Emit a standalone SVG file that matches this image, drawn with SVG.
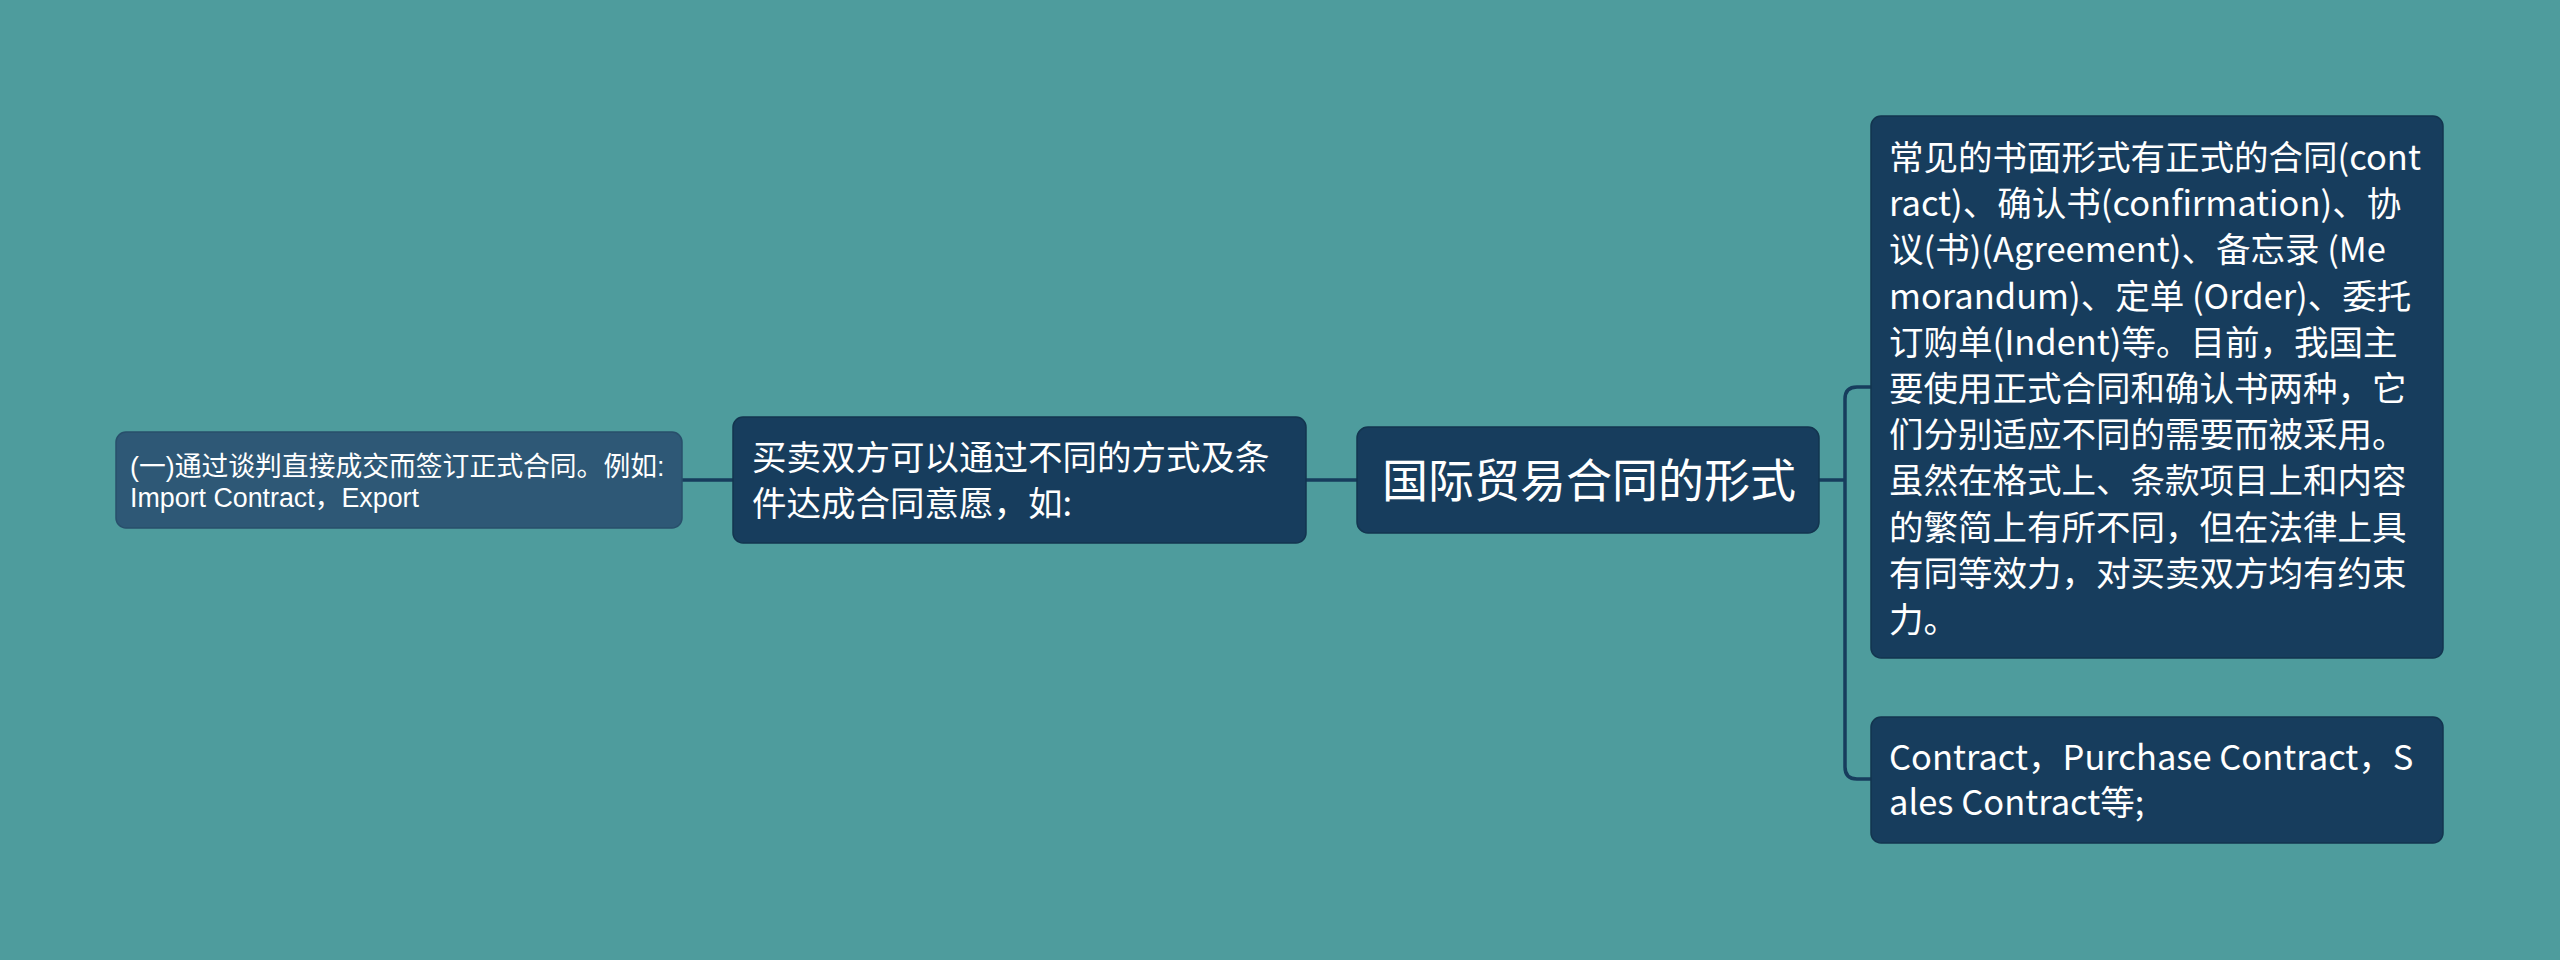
<svg xmlns="http://www.w3.org/2000/svg" width="2560" height="960" viewBox="0 0 2560 960">
<style>
.bg{fill:#4e9c9d}
.node{fill:#173d5d;stroke:#13354f;stroke-width:1.5}
.leaf{fill:#2e5876;stroke:#284f6b;stroke-width:1.5}
.t{fill:#ffffff;font-family:'Noto Sans CJK SC','Noto Sans',sans-serif}
.t0{font-size:46px}
.t1{font-size:34.5px}
.t2{font-size:26.8px;font-family:'Liberation Sans','Noto Sans CJK SC',sans-serif}
.edge{fill:none;stroke:#173d5d;stroke-width:3.5}
</style>
<rect class="bg" x="0" y="0" width="2560" height="960"/>
<g id="connectors">
<path class="edge" d="M1357,480 H1306"/>
<path class="edge" d="M733,480 H682"/>
<path class="edge" d="M1819,480 H1845"/>
<path class="edge" d="M1871,387 H1857 Q1845,387 1845,399 V767 Q1845,779 1857,779 H1871"/>
</g>
<g id="root">
<rect class="node" x="1357" y="427" width="462" height="106" rx="11"/>
<text class="t t0" x="1382" y="497">国际贸易合同的形式</text>
</g>
<g id="mid">
<rect class="node" x="733" y="417" width="573" height="126" rx="10"/>
<text class="t t1"><tspan x="752" y="470">买卖双方可以通过不同的方式及条</tspan><tspan x="752" y="516">件达成合同意愿，如:</tspan></text>
</g>
<g id="leaf">
<rect class="leaf" x="116" y="432" width="566" height="96" rx="10"/>
<text class="t t2"><tspan x="130" y="476">(一)通过谈判直接成交而签订正式合同。例如:</tspan><tspan x="130" y="507">Import Contract，Export</tspan></text>
</g>
<g id="right-top">
<rect class="node" x="1871" y="116" width="572" height="542" rx="10"/>
<text class="t t1"><tspan x="1889" y="170">常见的书面形式有正式的合同(cont</tspan><tspan x="1889" y="216">ract)、确认书(confirmation)、协</tspan><tspan x="1889" y="262">议(书)(Agreement)、备忘录 (Me</tspan><tspan x="1889" y="309">morandum)、定单 (Order)、委托</tspan><tspan x="1889" y="355">订购单(Indent)等。目前，我国主</tspan><tspan x="1889" y="401">要使用正式合同和确认书两种，它</tspan><tspan x="1889" y="447">们分别适应不同的需要而被采用。</tspan><tspan x="1889" y="493">虽然在格式上、条款项目上和内容</tspan><tspan x="1889" y="540">的繁简上有所不同，但在法律上具</tspan><tspan x="1889" y="586">有同等效力，对买卖双方均有约束</tspan><tspan x="1889" y="632">力。</tspan></text>
</g>
<g id="right-bottom">
<rect class="node" x="1871" y="717" width="572" height="126" rx="10"/>
<text class="t t1"><tspan x="1889" y="770">Contract，Purchase Contract，S</tspan><tspan x="1889" y="815">ales Contract等;</tspan></text>
</g>
</svg>
